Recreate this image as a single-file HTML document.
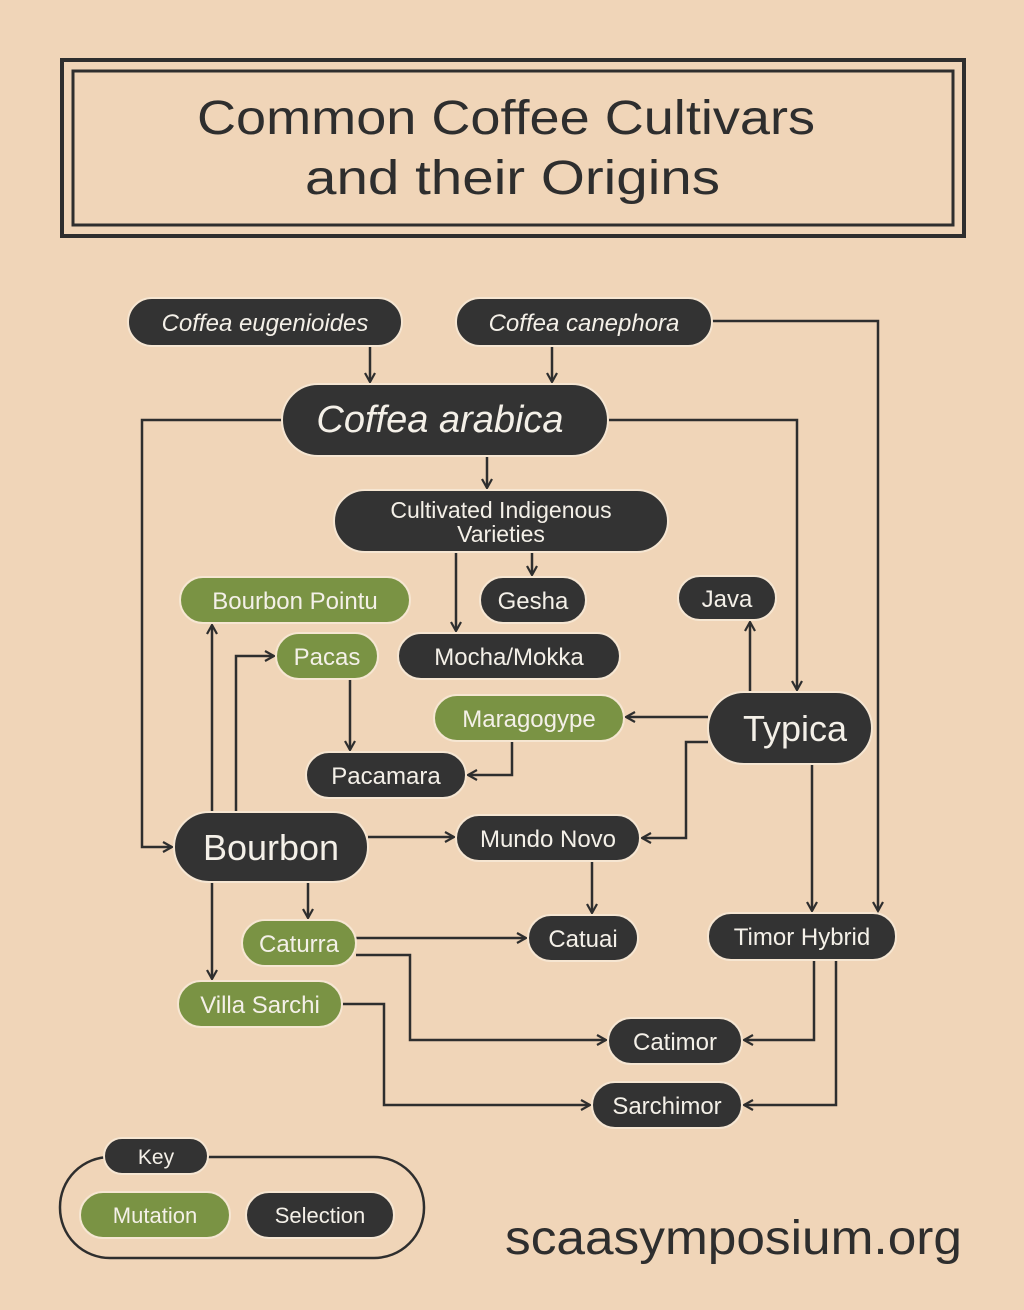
<!DOCTYPE html>
<html><head><meta charset="utf-8"><style>
html,body{margin:0;padding:0;background:#f0d5b8;}
svg{display:block}
text{font-family:"Liberation Sans",sans-serif;}
</style></head><body>
<svg width="1024" height="1310" viewBox="0 0 1024 1310" xmlns="http://www.w3.org/2000/svg">
<defs>
<marker id="a" markerWidth="12" markerHeight="12" refX="10" refY="6" orient="auto" markerUnits="userSpaceOnUse">
<path d="M1,1 L10,6 L1,11" fill="none" stroke="#2e2e2e" stroke-width="2.2"/>
</marker>
</defs>
<rect width="1024" height="1310" fill="#f0d5b8"/>
<rect x="62" y="60" width="902" height="176" fill="none" stroke="#2e2e2e" stroke-width="4"/>
<rect x="73" y="71" width="880" height="154" fill="none" stroke="#2e2e2e" stroke-width="3"/>
<text x="197" y="134" font-size="48" textLength="618" lengthAdjust="spacingAndGlyphs" fill="#2e2e2e">Common Coffee Cultivars</text>
<text x="305" y="194" font-size="48" textLength="415" lengthAdjust="spacingAndGlyphs" fill="#2e2e2e">and their Origins</text>

<g fill="none" stroke="#2e2e2e" stroke-width="2.5" marker-end="url(#a)">
<path d="M370 346 V382"/>
<path d="M552 346 V382"/>
<path d="M712 321 H878 V911"/>
<path d="M282 420 H142 V847 H172"/>
<path d="M608 420 H797 V690"/>
<path d="M487 456 V488"/>
<path d="M456 552 V631"/>
<path d="M532 552 V575"/>
<path d="M750 692 V622"/>
<path d="M708 717 H626"/>
<path d="M512 741 V775 H468"/>
<path d="M350 679 V750"/>
<path d="M212 812 V625"/>
<path d="M236 812 V656 H274"/>
<path d="M368 837 H454"/>
<path d="M708 742 H686 V838 H642"/>
<path d="M592 861 V913"/>
<path d="M308 882 V918"/>
<path d="M212 882 V979"/>
<path d="M356 938 H526"/>
<path d="M356 955 H410 V1040 H606"/>
<path d="M812 764 V911"/>
<path d="M814 960 V1040 H744"/>
<path d="M836 960 V1105 H744"/>
<path d="M342 1004 H384 V1105 H590"/>
</g>

<g stroke="#f6e6d2" stroke-width="2">
<rect x="128" y="298" width="274" height="48" rx="24" fill="#333"/>
<rect x="456" y="298" width="256" height="48" rx="24" fill="#333"/>
<rect x="282" y="384" width="326" height="72" rx="36" fill="#333"/>
<rect x="334" y="490" width="334" height="62" rx="31" fill="#333"/>
<rect x="180" y="577" width="230" height="46" rx="23" fill="#7a9344"/>
<rect x="480" y="577" width="106" height="46" rx="23" fill="#333"/>
<rect x="678" y="576" width="98" height="44" rx="22" fill="#333"/>
<rect x="276" y="633" width="102" height="46" rx="23" fill="#7a9344"/>
<rect x="398" y="633" width="222" height="46" rx="23" fill="#333"/>
<rect x="434" y="695" width="190" height="46" rx="23" fill="#7a9344"/>
<rect x="708" y="692" width="164" height="72" rx="36" fill="#333"/>
<rect x="306" y="752" width="160" height="46" rx="23" fill="#333"/>
<rect x="174" y="812" width="194" height="70" rx="35" fill="#333"/>
<rect x="456" y="815" width="184" height="46" rx="23" fill="#333"/>
<rect x="242" y="920" width="114" height="46" rx="23" fill="#7a9344"/>
<rect x="528" y="915" width="110" height="46" rx="23" fill="#333"/>
<rect x="708" y="913" width="188" height="47" rx="23" fill="#333"/>
<rect x="178" y="981" width="164" height="46" rx="23" fill="#7a9344"/>
<rect x="608" y="1018" width="134" height="46" rx="23" fill="#333"/>
<rect x="592" y="1082" width="150" height="46" rx="23" fill="#333"/>
</g>

<g fill="#f4f0e8" text-anchor="middle">
<text x="265" y="331" font-size="24" font-style="italic">Coffea eugenioides</text>
<text x="584" y="331" font-size="24" font-style="italic">Coffea canephora</text>
<text x="440" y="432" font-size="38" font-style="italic">Coffea arabica</text>
<text x="501" y="518" font-size="23">Cultivated Indigenous</text>
<text x="501" y="542" font-size="23">Varieties</text>
<text x="295" y="609" font-size="24">Bourbon Pointu</text>
<text x="533" y="609" font-size="24">Gesha</text>
<text x="727" y="607" font-size="24">Java</text>
<text x="327" y="665" font-size="24">Pacas</text>
<text x="509" y="665" font-size="24">Mocha/Mokka</text>
<text x="529" y="727" font-size="24">Maragogype</text>
<text x="795" y="741" font-size="36">Typica</text>
<text x="386" y="784" font-size="24">Pacamara</text>
<text x="271" y="860" font-size="36">Bourbon</text>
<text x="548" y="847" font-size="24">Mundo Novo</text>
<text x="299" y="952" font-size="24">Caturra</text>
<text x="583" y="947" font-size="24">Catuai</text>
<text x="802" y="945" font-size="24">Timor Hybrid</text>
<text x="260" y="1013" font-size="24">Villa Sarchi</text>
<text x="675" y="1050" font-size="24">Catimor</text>
<text x="667" y="1114" font-size="24">Sarchimor</text>
</g>

<rect x="60" y="1157" width="364" height="101" rx="50" fill="none" stroke="#2e2e2e" stroke-width="2.5"/>
<g stroke="#f6e6d2" stroke-width="2">
<rect x="104" y="1138" width="104" height="36" rx="18" fill="#333"/>
<rect x="80" y="1192" width="150" height="46" rx="23" fill="#7a9344"/>
<rect x="246" y="1192" width="148" height="46" rx="23" fill="#333"/>
</g>
<g fill="#f4f0e8" text-anchor="middle">
<text x="156" y="1164" font-size="21">Key</text>
<text x="155" y="1223" font-size="22">Mutation</text>
<text x="320" y="1223" font-size="22">Selection</text>
</g>
<text x="505" y="1254" font-size="48" textLength="457" lengthAdjust="spacingAndGlyphs" fill="#2e2e2e">scaasymposium.org</text>
</svg>
</body></html>
